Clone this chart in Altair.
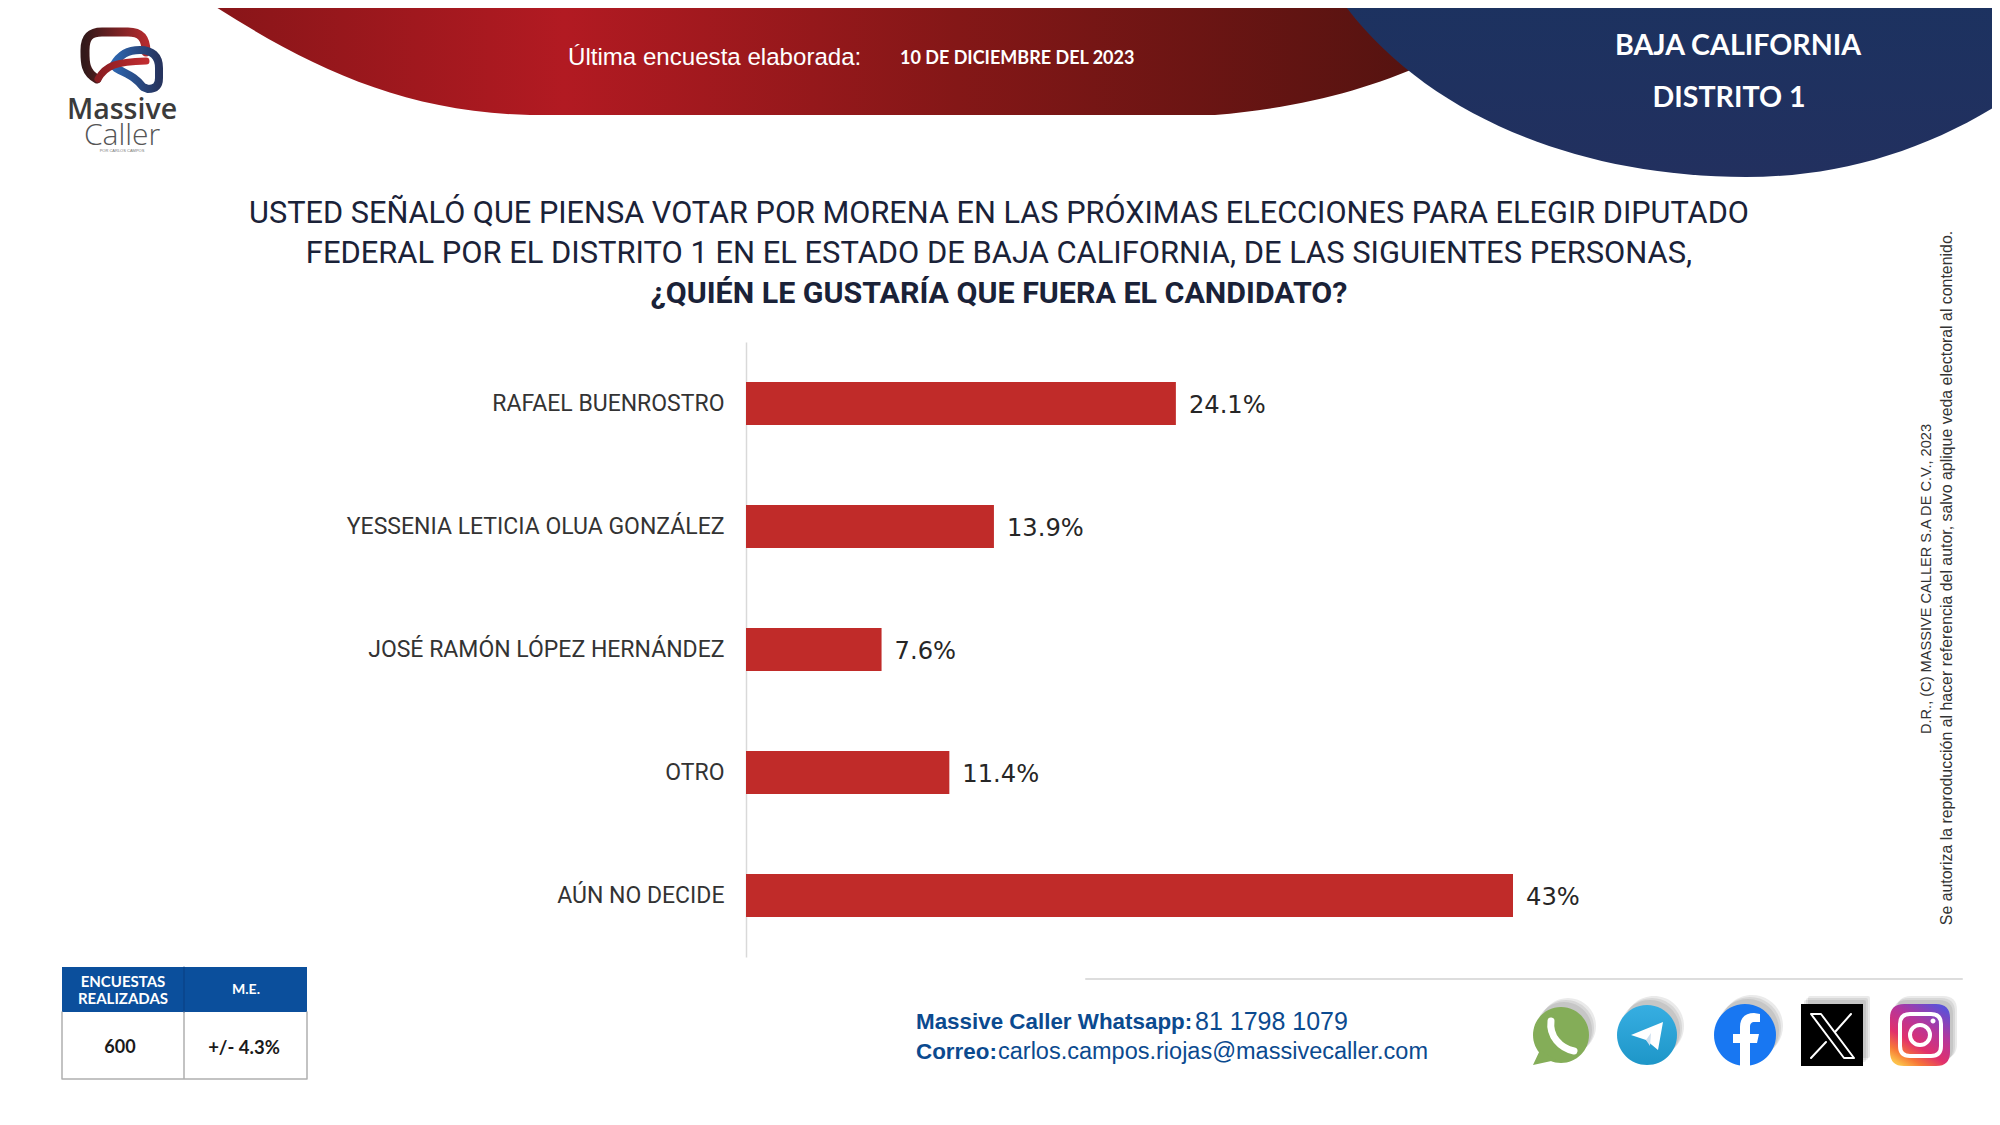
import altair as alt
import pandas as pd

categories = ["RAFAEL BUENROSTRO", "YESSENIA LETICIA OLUA GONZÁLEZ", "JOSÉ RAMÓN LÓPEZ HERNÁNDEZ", "OTRO", "AÚN NO DECIDE"]
values = [24.1, 13.9, 7.6, 11.4, 43]
value_labels = ["24.1%", "13.9%", "7.6%", "11.4%", "43%"]

M = 8
df = pd.DataFrame({"cat": categories, "val": values, "lab": value_labels})
one = alt.Data(values=[{}])


def grad(stops, x1=0, y1=0, x2=1, y2=0):
    return alt.LinearGradient(gradient="linear", x1=x1, y1=y1, x2=x2, y2=y2,
                              stops=[alt.GradientStop(offset=o, color=c) for o, c in stops])


def shape(path, fill=None, stroke=None, width=1, opacity=1):
    kw = {"shape": path, "size": 4, "opacity": opacity}
    if fill is not None:
        kw.update(filled=True, fill=fill, strokeWidth=0)
    else:
        kw.update(filled=False, fill="transparent", stroke=stroke, strokeWidth=width, strokeCap="round", strokeJoin="round")
    return alt.Chart(one).mark_point(**kw).encode(x=alt.value(-M), y=alt.value(-M))


def text(t, x, y, size, color="#1a2238", font="Liberation Sans", weight="normal", align="center", angle=0):
    return alt.Chart(one).mark_text(text=t, fontSize=size, color=color, font=font, fontWeight=weight,
                                    align=align, baseline="middle", angle=angle).encode(
        x=alt.value(x - M), y=alt.value(y - M))


def circle(cx, cy, r):
    return f"M{cx-r},{cy} A{r},{r} 0 1 1 {cx+r},{cy} A{r},{r} 0 1 1 {cx-r},{cy} Z"


def rrect(x0, y0, x1, y1, r):
    return (f"M{x0+r},{y0} L{x1-r},{y0} Q{x1},{y0} {x1},{y0+r} L{x1},{y1-r} Q{x1},{y1} {x1-r},{y1} "
            f"L{x0+r},{y1} Q{x0},{y1} {x0},{y1-r} L{x0},{y0+r} Q{x0},{y0} {x0+r},{y0} Z")


layers = []

# header shapes
layers.append(shape("M195,-5 L205,0 C305,65 400,112 530,115 L1215,115 C1300,108 1365,90 1425,64 L1340,-5 Z",
                    fill=grad([(0, "#861518"), (0.3, "#b21a22"), (0.62, "#841717"), (1, "#541310")])))
layers.append(shape("M1341,-5 L1341,0 C1420,110 1570,177 1746,177 C1840,177 1930,150 2010,97 L2010,-5 Z",
                    fill=grad([(0, "#1c3260"), (1, "#22305f")], x2=0, y2=1)))

# logo
layers.append(shape("M97,79 C84,72 85,60 85,50 C85,37 90,32 102,32 L128,32 C141,32 146,38 146,52",
                    stroke=grad([(0, "#33191a"), (0.55, "#7a2224"), (1, "#b32a2e")]), width=9))
layers.append(shape("M113,66 C120,54 128,50 140,50 C152,50 159,56 159,68 L159,78 C159,86 155,89 148,89 L143,87 C135,76 126,74 116,68",
                    stroke=grad([(0, "#2d66b0"), (1, "#26345f")]), width=8))
layers.append(shape("M98,79 C106,65 116,62 146,61", stroke=grad([(0, "#8a1d22"), (1, "#c02c30")]), width=7))
layers.append(text("Massive", 122, 110, 28.5, color="#3b3b3b", font="Open Sans", weight=600))
layers.append(text("Caller", 122, 136, 30, color="#555555", font="Open Sans", weight=300))
layers.append(text("POR CARLOS CAMPOS", 122, 151, 4, color="#777777"))

# header texts
layers.append(text("Última encuesta elaborada:", 568, 57.5, 24.1, color="#ffffff", align="left"))
layers.append(text("10 DE DICIEMBRE DEL 2023", 900, 58.5, 18, color="#ffffff", font="Lato", weight="bold", align="left"))
layers.append(text("BAJA CALIFORNIA", 1738, 45.5, 28.6, color="#ffffff", font="Lato", weight="bold"))
layers.append(text("DISTRITO 1", 1729, 97.5, 28.6, color="#ffffff", font="Lato", weight="bold"))

# question
layers.append(text("USTED SEÑALÓ QUE PIENSA VOTAR POR MORENA EN LAS PRÓXIMAS ELECCIONES PARA ELEGIR DIPUTADO", 999, 213.5, 30.7, font="Roboto"))
layers.append(text("FEDERAL POR EL DISTRITO 1 EN EL ESTADO DE BAJA CALIFORNIA, DE LAS SIGUIENTES PERSONAS,", 999, 253.5, 30.9, font="Roboto"))
layers.append(text("¿QUIÉN LE GUSTARÍA QUE FUERA EL CANDIDATO?", 999, 293.5, 30.4, font="Roboto", weight="bold"))

# bars
xs = alt.Scale(domain=[0, 43], range=[746 - M, 1513 - M])
ys = alt.Scale(domain=categories, range=[342 - M, 957 - M], paddingInner=0.65, paddingOuter=0.325)
yaxis = alt.Axis(title=None, orient="left", offset=-(746 - M), ticks=False, domainColor="#d9d9d9", domainWidth=1.5,
                 labelFont="Roboto", labelFontSize=23, labelColor="#333333", labelPadding=22,
                 labelLimit=600, grid=False)
base = alt.Chart(df)
layers.append(base.mark_bar(color="#c02b29").encode(
    x=alt.X("val:Q", scale=xs, axis=None),
    y=alt.Y("cat:N", scale=ys, axis=yaxis, sort=categories)))
layers.append(base.mark_text(align="left", baseline="middle", dx=13, dy=2.5, font="DejaVu Sans", fontSize=24.2, color="#262626").encode(
    x=alt.X("val:Q", scale=xs, axis=None),
    y=alt.Y("cat:N", scale=ys, axis=yaxis, sort=categories),
    text="lab:N"))

# side credits
layers.append(text("D.R., (C) MASSIVE CALLER S.A DE C.V., 2023", 1927, 579, 14.6, color="#333333", angle=270))
layers.append(text("Se autoriza la reproducción al hacer referencia del autor, salvo aplique veda electoral al contenido.", 1947, 578, 15.9, color="#333333", angle=270))

# table
layers.append(shape("M62,967 L307,967 L307,1012 L62,1012 Z", fill="#0b4f9c"))
layers.append(shape("M62,1012 L62,1079 L307,1079 L307,1012 M184,1012 L184,1079", stroke="#b0b0b0", width=1.5))
layers.append(shape("M184,967 L184,1012", stroke="#0a3f80", width=1))
layers.append(text("ENCUESTAS", 123, 982, 15, color="#ffffff", font="Lato", weight="bold"))
layers.append(text("REALIZADAS", 123, 999, 15, color="#ffffff", font="Lato", weight="bold"))
layers.append(text("M.E.", 246, 990, 14, color="#ffffff", font="Lato", weight="bold"))
layers.append(text("600", 120, 1048, 18, color="#1a1a1a", font="Lato", weight="bold"))
layers.append(text("+/- 4.3%", 244, 1048, 18.5, color="#1a1a1a", font="Lato", weight="bold"))

# footer
layers.append(shape("M1086,979 L1962,979", stroke="#dddddd", width=2))
blue = "#0b4a8f"
layers.append(text("Massive Caller Whatsapp:", 916, 1021.5, 22.4, color=blue, weight="bold", align="left"))
layers.append(text("81 1798 1079", 1195, 1021.5, 25, color=blue, align="left"))
layers.append(text("Correo:", 916, 1052, 22.4, color=blue, weight="bold", align="left"))
layers.append(text("carlos.campos.riojas@massivecaller.com", 998, 1052, 23.5, color=blue, align="left"))

# icons: soft shadows
for d, op in ((0, 0.12), (2, 0.12), (4, 0.12)):
    layers.append(shape(circle(1564 + d, 1030 - d, 28), fill="#555555", opacity=op))
    layers.append(shape(circle(1650 + d, 1030 - d, 30), fill="#555555", opacity=op))
    layers.append(shape(circle(1748 + d, 1030 - d, 31), fill="#555555", opacity=op))
    layers.append(shape(rrect(1804 + d, 1000 - d, 1866 + d, 1062 - d, 2), fill="#555555", opacity=op))
    layers.append(shape(rrect(1893 + d, 1000 - d, 1953 + d, 1062 - d, 14), fill="#555555", opacity=op))

# whatsapp
layers.append(shape(circle(1561, 1035, 28), fill="#84ad58"))
layers.append(shape("M1540,1050 L1533,1065 L1556,1060 Z", fill="#84ad58"))
layers.append(shape("M1551,1021 C1549,1036 1560,1048 1574,1051", stroke="#ffffff", width=7))
# telegram
layers.append(shape(circle(1647, 1035, 30), fill=grad([(0, "#37aee2"), (1, "#1e96c8")], x2=0, y2=1)))
layers.append(shape("M1631,1035 L1663,1022 L1658,1050 L1646,1040 Z", fill="#ffffff"))
layers.append(shape("M1646,1040 L1650,1046 L1651,1033 Z", fill="#cfe0ef"))
# facebook
layers.append(shape(circle(1745, 1035, 31), fill="#1877f2"))
layers.append(shape("M1740,1066 L1740,1043 L1733,1043 L1733,1034 L1740,1034 L1740,1027 C1740,1017 1746,1013 1754,1013 "
                    "L1760,1014 L1760,1022 L1755,1022 C1751,1022 1750,1024 1750,1027 L1750,1034 L1759,1034 L1757,1043 "
                    "L1750,1043 L1750,1066 Z", fill="#ffffff"))
# X
layers.append(shape("M1801,1004 L1863,1004 L1863,1066 L1801,1066 Z", fill="#000000"))
layers.append(shape("M1811,1014 L1821,1014 L1854,1058 L1844,1058 Z", stroke="#ffffff", width=2))
layers.append(shape("M1851,1014 L1835,1032 M1826,1042 L1811,1058", stroke="#ffffff", width=2))
# instagram
layers.append(shape(rrect(1890, 1004, 1950, 1066, 14),
                    fill=grad([(0, "#5b51d8"), (0.35, "#b5369c"), (0.65, "#e1306c"), (0.85, "#f77737"), (1, "#fcc04a")], x1=0.8, y1=0, x2=0.2, y2=1)))
layers.append(shape(rrect(1900, 1014, 1941, 1056, 10), stroke="#ffffff", width=4))
layers.append(shape(circle(1920, 1035, 10), stroke="#ffffff", width=4))
layers.append(shape(circle(1933, 1021, 2.5), fill="#ffffff"))

chart = alt.layer(*layers).properties(
    width=1984, height=1109, padding=0, autosize=alt.AutoSizeParams(type="none"),
    background="#ffffff",
).configure_view(stroke=None)

chart.save("out.html", embed_options={"renderer": "svg", "actions": False})
